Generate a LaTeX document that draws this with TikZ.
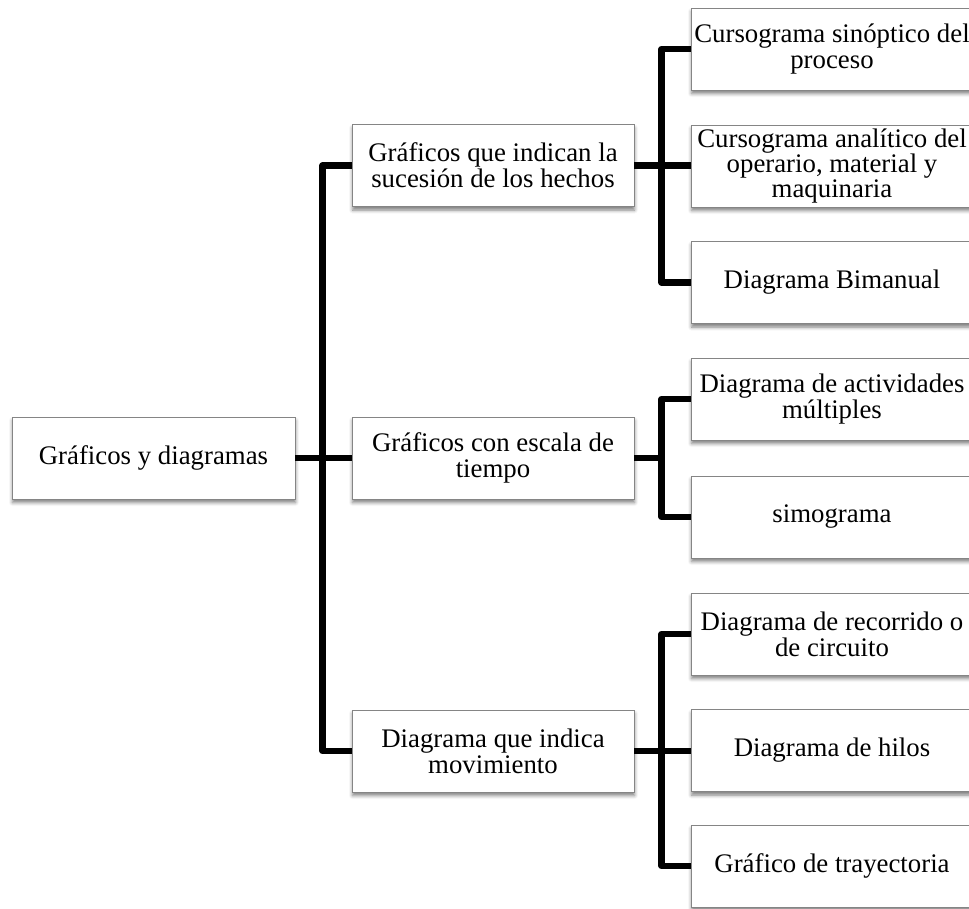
\documentclass[tikz,border=0pt]{standalone}
\usepackage{fontspec}
\setmainfont{Liberation Serif}
\usetikzlibrary{shadows.blur}

\tikzset{
  box/.style={
    draw=black!48, line width=0.9pt, fill=white,
    minimum width=282pt, minimum height=82pt, inner sep=2pt,
    align=center, font=\fontsize{26.8}{25.8}\selectfont,
    blur shadow={shadow xshift=0.5pt, shadow yshift=-3.5pt,
      shadow blur radius=3.5pt, shadow opacity=50}
  },
  link/.style={draw=black, line width=6.5pt, line join=round}
}

\begin{document}
\begin{tikzpicture}[x=1pt, y=-1pt]
  \useasboundingbox (0,0) rectangle (969,908);
  \clip (0,0) rectangle (969,908);

  % root
  \node[box, minimum width=283pt] (root) at (153.5,458) {Gráficos y diagramas};

  % second level
  \node[box] (m1) at (493,165.5) {Gráficos que indican la\\sucesión de los hechos};
  \node[box] (m2) at (493,458)   {Gráficos con escala de\\tiempo};
  \node[box] (m3) at (493,751)   {Diagrama que indica\\movimiento};

  % leaves
  \node[box] (l1) at (832,49)    {Cursograma sinóptico del\\proceso};
  \node[box, font=\fontsize{26.8}{25}\selectfont] (l2) at (832,166)
    {Cursograma analítico del\\operario, material y\\maquinaria};
  \node[box] (l3) at (832,282.5) {Diagrama Bimanual};
  \node[box] (l4) at (832,399)   {Diagrama de actividades\\múltiples};
  \node[box] (l5) at (832,517)   {simograma};
  \node[box] (l6) at (832,634)   {Diagrama de recorrido o\\de circuito};
  \node[box] (l7) at (832,750.5) {Diagrama de hilos};
  \node[box] (l8) at (832,866)   {Gráfico de trayectoria};

  % connectors: root to second level
  \draw[link] (root.east) -- (m2.west);
  \draw[link] (m1.west) -- ++(-29,0) |- (m3.west);

  % connectors: second level to leaves
  \draw[link] (m1.east) -- (m1.east -| l2.west);
  \draw[link] (l1.west) -- ++(-29,0) |- (l3.west);

  \coordinate (b2) at ([xshift=-29pt]l4.west |- m2.east);
  \draw[link] (m2.east) -- (b2);
  \draw[link] (l4.west) -- ++(-29,0) |- (l5.west);

  \draw[link] (m3.east) -- (m3.east -| l7.west);
  \draw[link] (l6.west) -- ++(-29,0) |- (l8.west);
\end{tikzpicture}
\end{document}
